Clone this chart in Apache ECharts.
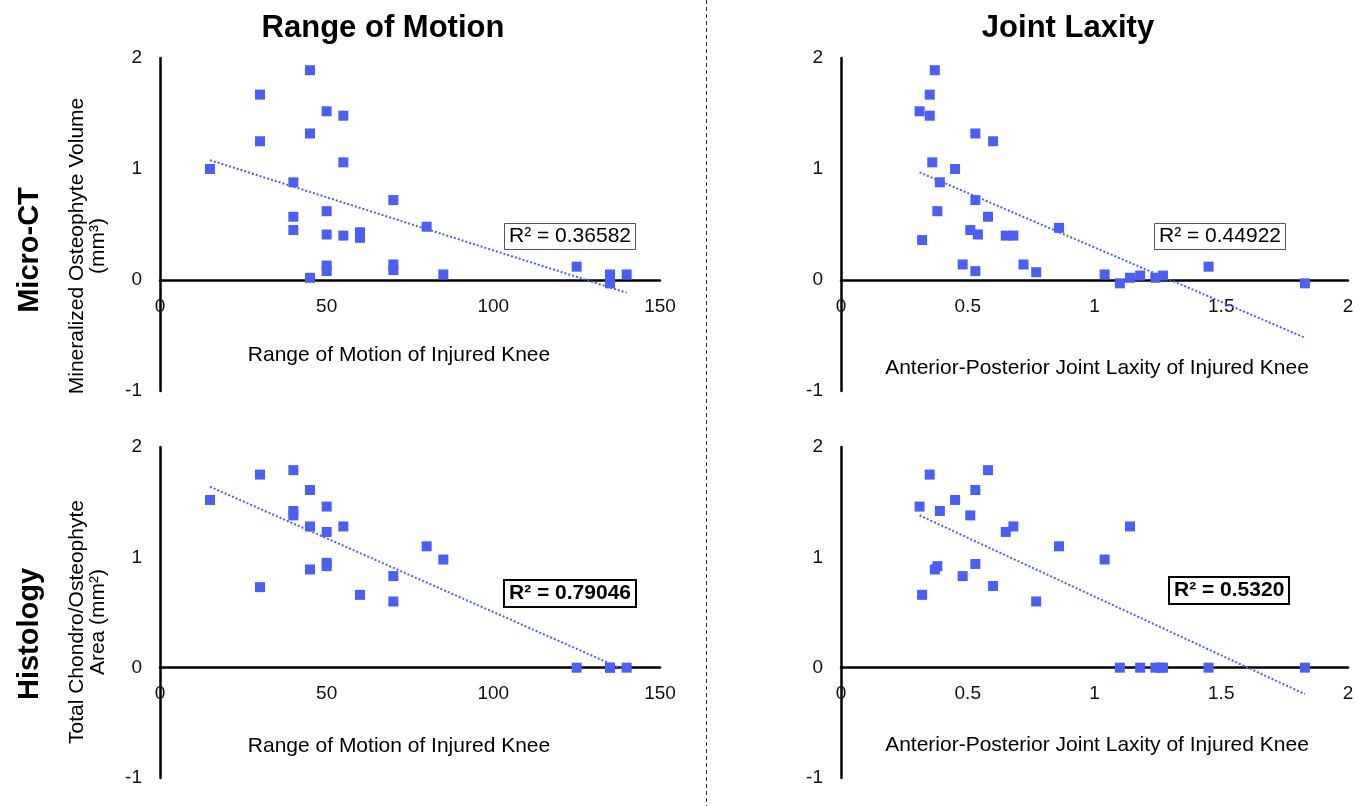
<!DOCTYPE html>
<html>
<head>
<meta charset="utf-8">
<script src="https://cdn.jsdelivr.net/npm/echarts@6/dist/echarts.min.js"></script>
<style>
  html, body { margin: 0; padding: 0; background: #fff; }
  #main { width: 1369px; height: 806px; }
</style>
</head>
<body>
<div id="main"></div>
<script>
// range of motion (deg) vs mineralized osteophyte volume (mm3)
var romCT = [[15,1.00],[30,1.67],[30,1.25],[45,1.89],[45,1.32],[45,0.02],[50,1.52],[55,1.48],[55,1.06],
  [40,0.88],[40,0.57],[40,0.45],[50,0.62],[50,0.41],[50,0.13],[50,0.08],[55,0.40],[60,0.43],[60,0.38],
  [70,0.72],[70,0.14],[70,0.09],[80,0.48],[85,0.05],[125,0.12],[135,0.05],[135,0.01],[135,-0.03],[140,0.05]];
// joint laxity (mm) vs mineralized osteophyte volume
var laxCT = [[0.37,1.89],[0.35,1.67],[0.31,1.52],[0.35,1.48],[0.53,1.32],[0.60,1.25],[0.36,1.06],[0.45,1.00],
  [0.39,0.88],[0.53,0.72],[0.38,0.62],[0.58,0.57],[0.86,0.47],[0.32,0.36],[0.51,0.45],[0.54,0.41],
  [0.65,0.40],[0.68,0.40],[0.48,0.14],[0.53,0.08],[0.72,0.14],[0.77,0.07],[1.04,0.05],[1.10,-0.03],
  [1.14,0.02],[1.18,0.04],[1.24,0.02],[1.27,0.04],[1.45,0.12],[1.83,-0.03]];
// range of motion vs total chondro/osteophyte area (mm2)
var romHist = [[15,1.52],[30,1.75],[30,0.73],[40,1.79],[40,1.42],[40,1.38],[45,1.61],[45,1.28],[45,0.89],
  [50,1.46],[50,1.23],[50,0.95],[50,0.92],[55,1.28],[60,0.66],[70,0.83],[70,0.60],[80,1.10],[85,0.98],
  [125,0],[135,0],[135,0],[140,0]];
// joint laxity vs total chondro/osteophyte area
var laxHist = [[0.35,1.75],[0.58,1.79],[0.53,1.61],[0.45,1.52],[0.31,1.46],[0.39,1.42],[0.51,1.38],
  [0.65,1.23],[0.68,1.28],[1.14,1.28],[0.86,1.10],[1.04,0.98],[0.38,0.92],[0.37,0.89],[0.53,0.94],
  [0.48,0.83],[0.60,0.74],[0.32,0.66],[0.77,0.60],[1.10,0],[1.18,0],[1.24,0],[1.26,0],[1.27,0],[1.45,0],[1.83,0]];

// linear trendline end points (as drawn)
var trendRomCT = [[15,1.08],[140,-0.115]];
var trendLaxCT = [[0.31,0.97],[1.83,-0.52]];
var trendRomHist = [[15,1.64],[140,-0.03]];
var trendLaxHist = [[0.31,1.38],[1.83,-0.24]];

var r2Labels = ['R² = 0.36582', 'R² = 0.44922', 'R² = 0.79046', 'R² = 0.5320'];
var colTitles = ['Range of Motion', 'Joint Laxity'];
var rowTitles = ['Micro-CT', 'Histology'];
var xNames = ['Range of Motion of Injured Knee', 'Anterior-Posterior Joint Laxity of Injured Knee'];
var yNames = ['Mineralized Osteophyte Volume\n(mm³)', 'Total Chondro/Osteophyte\nArea (mm²)'];

var FONT = 'Liberation Sans, Arial, sans-serif';
var BLUE = '#4a5ff7';

var chart = echarts.init(document.getElementById('main'));

var grids = [
  { left: 160, top: 58, width: 500, height: 333 },
  { left: 841, top: 58, width: 507, height: 333 },
  { left: 160, top: 447, width: 500, height: 331 },
  { left: 841, top: 447, width: 507, height: 331 }
];

// x axis sits on the y = 0 line, one third of the grid height above the bottom
function xAx(i, max, interval) {
  return {
    gridIndex: i, type: 'value', min: 0, max: max, interval: interval,
    axisLine: { onZero: false, lineStyle: { color: '#000', width: 2.5 } },
    offset: -grids[i].height / 3,
    axisTick: { show: false }, splitLine: { show: false },
    axisLabel: { color: '#111', fontSize: 19, fontFamily: FONT, margin: 17, showMaxLabel: true }
  };
}
function yAx(i) {
  return {
    gridIndex: i, type: 'value', min: -1, max: 2, interval: 1,
    axisLine: { lineStyle: { color: '#000', width: 2.5 } },
    axisTick: { show: false }, splitLine: { show: false },
    axisLabel: { color: '#111', fontSize: 19, fontFamily: FONT, margin: 18 }
  };
}
function pts(i, data) {
  return { type: 'scatter', xAxisIndex: i, yAxisIndex: i, data: data, symbol: 'rect', symbolSize: 10,
    itemStyle: { color: BLUE, opacity: 1 }, z: 5 };
}
function trend(i, data) {
  return { type: 'line', xAxisIndex: i, yAxisIndex: i, data: data, symbol: 'none', z: 4,
    lineStyle: { color: BLUE, width: 2, type: [2, 2] } };
}
function r2(text, left, top, bold) {
  return { text: text, left: left, top: top, padding: [3, 5],
    borderColor: bold ? '#000' : '#555', borderWidth: bold ? 2 : 1,
    textStyle: { fontFamily: FONT, fontSize: 21, fontWeight: bold ? 'bold' : 'normal', color: '#000' } };
}
function label(text, x, y, size, bold, rot) {
  return { type: 'text', x: x, y: y, rotation: rot || 0,
    style: { text: text, fill: '#000', font: (bold ? 'bold ' : '') + size + 'px ' + FONT,
      textAlign: 'center', textVerticalAlign: 'middle', lineHeight: size } };
}

var option = {
  animation: false,
  grid: grids,
  xAxis: [xAx(0, 150, 50), xAx(1, 2, 0.5), xAx(2, 150, 50), xAx(3, 2, 0.5)],
  yAxis: [yAx(0), yAx(1), yAx(2), yAx(3)],
  title: [
    r2(r2Labels[0], 504, 223, false),
    r2(r2Labels[1], 1154, 223, false),
    r2(r2Labels[2], 504, 580, true),
    r2(r2Labels[3], 1169, 577, true)
  ],
  graphic: [
    label(colTitles[0], 383, 28, 31, true),
    label(colTitles[1], 1068, 28, 31, true),
    label(rowTitles[0], 30, 250, 29, true, Math.PI / 2),
    label(rowTitles[1], 30, 634, 29, true, Math.PI / 2),
    label(xNames[0], 399, 355, 21),
    label(xNames[1], 1097, 368, 21),
    label(xNames[0], 399, 746, 21),
    label(xNames[1], 1097, 745, 21),
    label(yNames[0], 88, 246, 21, false, Math.PI / 2),
    label(yNames[1], 88, 622, 21, false, Math.PI / 2),
    { type: 'line', shape: { x1: 706.5, y1: 0, x2: 706.5, y2: 806 },
      style: { stroke: '#333', lineWidth: 1, lineDash: [4, 3] } }
  ],
  series: [
    pts(0, romCT), trend(0, trendRomCT),
    pts(1, laxCT), trend(1, trendLaxCT),
    pts(2, romHist), trend(2, trendRomHist),
    pts(3, laxHist), trend(3, trendLaxHist)
  ]
};

option && chart.setOption(option);
</script>
</body>
</html>
